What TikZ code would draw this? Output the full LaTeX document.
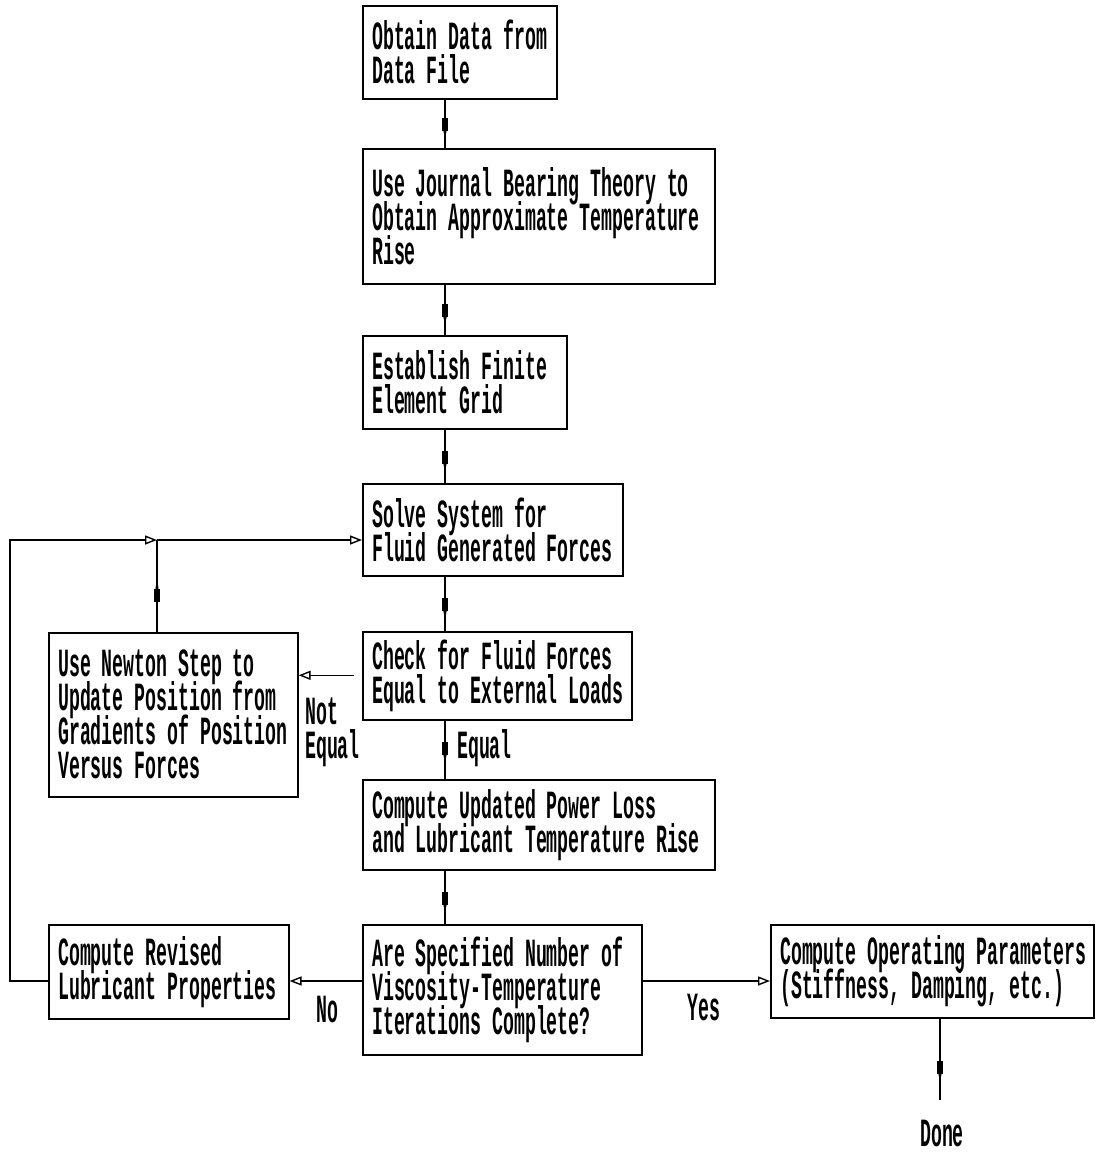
\documentclass[tikz,border=0pt]{standalone}
\usepackage{fontspec}
\newfontfamily\plotfont[FakeStretch=0.455]{Liberation Mono}
\newcommand\plotset{\plotfont\bfseries\fontsize{40}{34}\selectfont\lineskiplimit=-60pt\relax}
\usetikzlibrary{arrows.meta,decorations.markings,calc}
\tikzset{
  box/.style={draw, line width=1.6pt, inner sep=0pt, anchor=north west},
  txt/.style={font=\plotset, align=left, inner sep=0pt, anchor=west},
  lbl/.style={font=\plotset, align=left, inner sep=0pt},
  conn/.style={line width=1.6pt},
  vflow/.style={conn, postaction={decorate}, decoration={markings, mark=at position #1 with {
      \fill (-11pt,-2.6pt) rectangle (2pt,2.6pt);
      \fill (2pt,-1.6pt) -- (11pt,0pt) -- (2pt,1.6pt) -- cycle;}}},
  vflow/.default=0.55,
  hflow/.style={conn, -{Triangle[open, length=12pt, width=9pt, line width=1.4pt]}},
}
\begin{document}
\begin{tikzpicture}[x=1pt,y=-1pt]
\useasboundingbox (0,0) rectangle (1102,1153);
% boxes
\node[box, minimum width=194pt, minimum height=93pt] (b1) at (362,5) {};
\node[box, minimum width=352pt, minimum height=135pt] (b2) at (362,148) {};
\node[box, minimum width=204pt, minimum height=93pt] (b3) at (362,335) {};
\node[box, minimum width=260pt, minimum height=92pt] (b4) at (362,483) {};
\node[box, minimum width=269pt, minimum height=88pt] (b5) at (362,631) {};
\node[box, minimum width=249pt, minimum height=164pt] (b6) at (48,632) {};
\node[box, minimum width=352pt, minimum height=90pt] (b7) at (362,779) {};
\node[box, minimum width=279pt, minimum height=130pt] (b8) at (362,924) {};
\node[box, minimum width=240pt, minimum height=94pt] (b9) at (48,924) {};
\node[box, minimum width=323pt, minimum height=93pt] (b10) at (770,924) {};
% texts
\node[txt] (t1) at ($(b1.west)+(10,0)$) {Obtain Data from\\Data File};
\node[txt] (t2) at ($(b2.west)+(10,0)$) {Use Journal Bearing Theory to\\Obtain Approximate Temperature\\Rise};
\node[txt] (t3) at ($(b3.west)+(10,0)$) {Establish Finite\\Element Grid};
\node[txt] (t4) at ($(b4.west)+(10,0)$) {Solve System for\\Fluid Generated Forces};
\node[txt] (t5) at ($(b5.west)+(10,0)$) {Check for Fluid Forces\\Equal to External Loads};
\node[txt] (t6) at ($(b6.west)+(10,0)$) {Use Newton Step to\\Update Position from\\Gradients of Position\\Versus Forces};
\node[txt] (t7) at ($(b7.west)+(10,0)$) {Compute Updated Power Loss\\and Lubricant Temperature Rise};
\node[txt] (t8) at ($(b8.west)+(10,0)$) {Are Specified Number of\\Viscosity-Temperature\\Iterations Complete?};
\node[txt] (t9) at ($(b9.west)+(10,0)$) {Compute Revised\\Lubricant Properties};
\node[txt] (t10) at ($(b10.west)+(10,0)$) {Compute Operating Parameters\\(Stiffness, Damping, etc.)};
% main vertical flow
\draw[vflow=0.6] ($(b1.south west)+(83,0)$) -- ($(b2.north west)+(83,0)$);
\draw[vflow=0.6] ($(b2.south west)+(83,0)$) -- ($(b3.north west)+(83,0)$);
\draw[vflow=0.6] ($(b3.south west)+(83,0)$) -- ($(b4.north west)+(83,0)$);
\draw[vflow=0.6] ($(b4.south west)+(83,0)$) -- ($(b5.north west)+(83,0)$);
\draw[vflow=0.55] ($(b5.south west)+(83,0)$) -- ($(b7.north west)+(83,0)$);
\draw[vflow=0.6] ($(b7.south west)+(83,0)$) -- ($(b8.north west)+(83,0)$);
\node[lbl, anchor=west] (leq) at (457,748) {Equal};
% not equal branch
\coordinate (ne) at ($(b5.west)+(-8,-0.5)$);
\draw[hflow] (ne) -- (ne -| b6.east);
\node[lbl, anchor=north west] (lne) at (305,698) {Not\\Equal};
% newton back to solve
\coordinate (j) at ($(b6.north west)+(109,-92)$);
\draw[vflow=0.45] ($(b6.north west)+(109,0)$) -- (j);
% no branch
\coordinate (nb) at ($(b8.north west)+(0,57)$);
\draw[hflow] (nb) -- (nb -| b9.east);
\node[lbl] (lno) at (327,1010) {No};
% yes branch
\coordinate (yb) at ($(b8.north east)+(0,57)$);
\draw[hflow] (yb) -- (yb -| b10.west);
\node[lbl] (lyes) at (704,1008) {Yes};
% loop
\coordinate (lb) at ($(b9.north west)+(0,57)$);
\coordinate (lc) at (10,981);
\coordinate (lt) at (10,540);
\draw[hflow] (lb) -- (lc) -- (lt) -- (j);
\draw[hflow] (j) -- (j -| b4.west);
% done
\coordinate (dn) at (940,1100);
\draw[vflow=0.65] ($(b10.south west)+(170,0)$) -- (dn);
\node[lbl] (ldone) at (942,1134) {Done};
\end{tikzpicture}
\end{document}
